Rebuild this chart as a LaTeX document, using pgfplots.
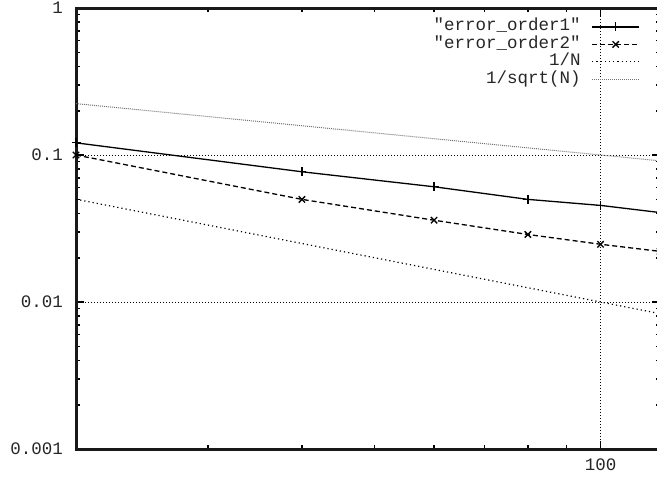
\documentclass[border=0pt]{standalone}
\usepackage{pgfplots}
\pgfplotsset{compat=1.18}
\usepackage{fontspec}
\setmonofont{Liberation Mono}
\begin{document}
\ttfamily\fontsize{17.5}{20}\selectfont
\begin{tikzpicture}
\begin{axis}[name=ax, xmode=log, ymode=log, scale only axis,
  width=584pt, height=441pt,
  xmin=20, xmax=120, ymin=0.001, ymax=1,
  xtick={100}, xticklabels={100},
  ytick={0.001,0.01,0.1,1}, yticklabels={0.001,0.01,0.1,1},
  minor xtick={20,30,40,50,60,70,80,90},
  minor ytick={0.002,0.003,0.004,0.005,0.006,0.007,0.008,0.009,0.02,0.03,0.04,0.05,0.06,0.07,0.08,0.09,0.2,0.3,0.4,0.5,0.6,0.7,0.8,0.9},
  tick align=inside, major tick length=8pt, minor tick length=4pt,
  tick style={black, line width=1.5pt},
  axis line style={line width=3pt, black!90},
  grid=major, major grid style={black, line width=0.7pt, dash pattern=on 1pt off 2pt},
  /pgf/number format/assume math mode=true,
  tick label style={font=\ttfamily\fontsize{17.5}{20}\selectfont, black!85},
  yticklabel style={xshift=-7pt},
  xticklabel style={yshift=-4pt},
  legend plot pos=right,
  legend cell align=right,
  legend style={at={(0.971,0.982)}, anchor=north east, draw=none, fill=none,
    font=\ttfamily\fontsize{17.5}{20}\selectfont, row sep=0pt, column sep=10pt, text=black!85,
    nodes={inner sep=1pt, text height=11.5pt, text depth=4pt}},
  legend image code/.code={\draw[#1, mark repeat=2, mark phase=2] plot coordinates {(0pt,0pt) (23.5pt,0pt) (47pt,0pt)};},
]
\addplot[black, line width=1.3pt, mark=+, mark size=4.5pt, mark options={solid, line width=1.3pt}]
  coordinates {(20,0.121)(40,0.0769)(60,0.0608)(80,0.0499)(100,0.0454)(120,0.0406)};
\addlegendentry{"error\_order1"}
\addplot[black, line width=1.3pt, dash pattern=on 5pt off 3pt, mark=x, mark size=4.5pt, mark options={solid, line width=1.3pt}]
  coordinates {(20,0.1)(40,0.0499)(60,0.036)(80,0.0288)(100,0.0247)(120,0.0221)};
\addlegendentry{"error\_order2"}
\addplot[black, line width=1.2pt, dash pattern=on 1.2pt off 3pt]
  coordinates {(20,0.05)(120,0.0083333)};
\addlegendentry{1/N}
\addplot[black!55, line width=1pt, dash pattern=on 1pt off 1pt]
  coordinates {(20,0.2236068)(120,0.0912871)};
\addlegendentry{1/sqrt(N)}
\end{axis}
\pgfresetboundingbox
\path ([xshift=-76pt,yshift=-32pt]ax.south west) rectangle ([xshift=581pt,yshift=8pt]ax.north west);
\end{tikzpicture}
\end{document}
